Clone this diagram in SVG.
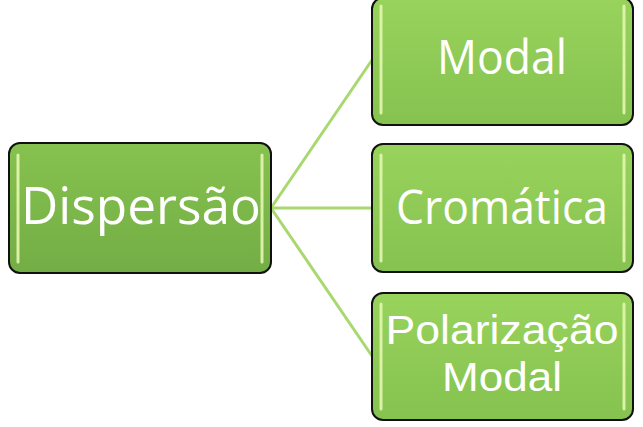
<svg xmlns="http://www.w3.org/2000/svg" width="643" height="427" viewBox="0 0 643 427">
<defs>
<linearGradient id="gA" x1="0" y1="0" x2="0" y2="1">
<stop offset="0" stop-color="#86c24f"/>
<stop offset="1" stop-color="#73ad45"/>
</linearGradient>
<linearGradient id="gB" x1="0" y1="0" x2="0" y2="1">
<stop offset="0" stop-color="#98d35c"/>
<stop offset="1" stop-color="#85c24f"/>
</linearGradient>
</defs>
<style>
.box{stroke:#111;stroke-width:2}
.hl{stroke:#e4f7b0;stroke-width:3;stroke-linecap:round;opacity:0.9}
.t{font-family:"Open Sans","Liberation Sans",sans-serif;fill:#fff;text-anchor:middle}
.t2{font-family:"Liberation Sans",Arial,sans-serif;fill:#fff;text-anchor:middle}
.con{stroke:#a8d86f;stroke-width:3;fill:none}
</style>
<g id="connectors">
<line class="con" x1="271" y1="208" x2="372" y2="60"/>
<line class="con" x1="271" y1="208" x2="372" y2="208"/>
<line class="con" x1="271" y1="208" x2="372" y2="356"/>
</g>
<g id="dispersao">
<rect class="box" x="9" y="143" width="262" height="130" rx="11" fill="url(#gA)"/>
<line class="hl" x1="18" y1="155" x2="18" y2="262"/>
<line class="hl" x1="262" y1="155" x2="262" y2="262"/>
<text class="t" x="141" y="224" font-size="52" textLength="240" lengthAdjust="spacingAndGlyphs">Dispersão</text>
</g>
<g id="modal">
<rect class="box" x="372" y="-2" width="261" height="127" rx="11" fill="url(#gB)"/>
<line class="hl" x1="381" y1="6" x2="381" y2="113"/>
<line class="hl" x1="624" y1="6" x2="624" y2="113"/>
<text class="t" x="502" y="74" font-size="48" textLength="130" lengthAdjust="spacingAndGlyphs">Modal</text>
</g>
<g id="cromatica">
<rect class="box" x="372" y="144" width="261" height="128" rx="11" fill="url(#gB)"/>
<line class="hl" x1="381" y1="155" x2="381" y2="261"/>
<line class="hl" x1="624" y1="155" x2="624" y2="261"/>
<text class="t" x="502" y="224" font-size="48" textLength="212" lengthAdjust="spacingAndGlyphs">Cromática</text>
</g>
<g id="polarizacao">
<rect class="box" x="372" y="293" width="261" height="127" rx="11" fill="url(#gB)"/>
<line class="hl" x1="381" y1="304" x2="381" y2="409"/>
<line class="hl" x1="624" y1="304" x2="624" y2="409"/>
<text class="t2" font-size="41"><tspan x="502" y="344" textLength="233" lengthAdjust="spacingAndGlyphs">Polarização</tspan><tspan x="502" y="391" textLength="120" lengthAdjust="spacingAndGlyphs">Modal</tspan></text>
</g>
</svg>
